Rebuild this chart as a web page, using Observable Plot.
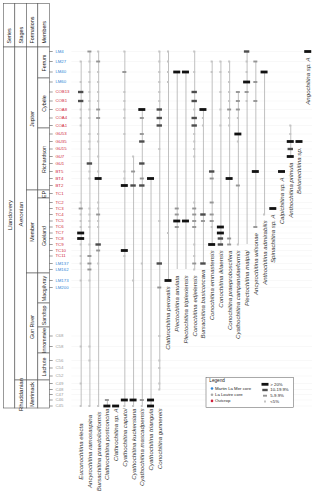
<!DOCTYPE html>
<html><head><meta charset="utf-8">
<script src="https://cdn.jsdelivr.net/npm/d3@7"></script>
<script src="https://cdn.jsdelivr.net/npm/@observablehq/plot@0.6"></script>
<style>
body{margin:0;background:#fff;}
#wrap{position:relative;width:320px;height:499px;overflow:hidden;}
#wrap svg{position:absolute;left:0;top:0;}
</style></head><body><div id="wrap"></div>
<script>
// ---------- DATA ----------
const samples = ["LM4","LM27","LM40","LM60","COB13","COB1","COA8","COA4","COA1","GU53","GU35","GU15","GU7","GU1","BT5","BT4","BT2","TC1","TC2","TC3","TC4","TC5","TC6","TC7","TC8","TC9","TC10","TC11","LM137","LM162","LM173","LM200","C68","C58","C56","C54","C52","C49","C48","C47","C46","C45"];
const sampleLevels = [359,349,338.5,328.5,318.5,309.5,301,292.5,285,276.5,269,261.5,254,247,239,232,225,217,208,202,196,189.5,183.5,177.5,172,166,160,154.5,147,141,130,123,74.5,64,50,42.5,34.5,27,21,16,10.5,4.5];
const sampleSources = ["Martin La Mer core","Martin La Mer core","Martin La Mer core","Martin La Mer core","Outcrop","Outcrop","Outcrop","Outcrop","Outcrop","Outcrop","Outcrop","Outcrop","Outcrop","Outcrop","Outcrop","Outcrop","Outcrop","Outcrop","Outcrop","Outcrop","Outcrop","Outcrop","Outcrop","Outcrop","Outcrop","Outcrop","Outcrop","Outcrop","Martin La Mer core","Martin La Mer core","Martin La Mer core","Martin La Mer core","La Loutre core","La Loutre core","La Loutre core","La Loutre core","La Loutre core","La Loutre core","La Loutre core","La Loutre core","La Loutre core","La Loutre core"];
const sourceNames = ["Martin La Mer core","La Loutre core","Outcrop"];

const species = ["Euconochitina electa","Ancyrochitina ramosaspina","Bursachitina praedolioliformis","Clathrochitina postconcina","Clathrochitina sp. A","Cyathochitina caputoi","Cyathochitina kuckersiana","Cyathochitina mascadpensis","Cyathochitina triangula","Conochitina gunnereis","Clathrochitina perovalis","Plectochitina anulata","Plectochitina triplexiensis","Conochitina edjelensis","Bursachitina basiconcava","Conochitina emmastensis","Conochitina iklaensis","Conochitina praeproboscifera","Cyathochitina campanulaeformis","Plectochitina malpiqi","Ancyrochitina wilsonae","Anthochitina admirabilis","Spinachitina sp. A","Calpichitina sp. A","Anthochitina primula","Belonechitina sp.","Angochitina sp. A"];

// sample:abundance class (1 = <5%, 2 = 5-9.9%, 3 = 10-19.9%, 4 = >20%)
const occurrences = [
 ["LM27:1","LM60:1","COB13:3","COB1:3","COA8:1","COA4:1","COA1:1","TC2:1","TC3:2","TC4:1","TC5:1","TC6:1","TC7:4","TC8:4","TC9:1","TC11:1","LM137:1","LM173:1","C58:1","C49:1","C45:1"],
 ["LM4:2","LM27:1","LM40:1","LM60:1","COB13:1","COB1:1","COA8:1","COA4:1","GU53:1","GU35:1","GU15:1","GU1:3","BT5:1","BT4:1","TC3:1","TC4:1","TC5:1","TC6:1","TC9:1","TC11:2","LM137:2","LM162:2","LM173:1","C58:1","C56:1","C45:1"],
 ["LM4:1","LM27:2","LM40:1","LM60:1","COB13:1","COB1:1","COA8:2","COA4:2","GU53:1","GU35:1","GU7:1","BT5:1","BT4:4","TC2:1","TC3:1","TC4:2","TC5:1","TC6:1","TC9:3","TC10:2","LM137:1","C45:1"],
 ["C46:2","C45:4"],
 ["C45:4"],
 ["LM4:1","LM40:2","COB13:1","COB1:1","COA8:1","COA4:1","GU53:1","BT5:1","BT4:1","BT2:4","TC10:4","TC11:1","C46:4","C45:1"],
 ["GU7:1","BT5:2","BT2:3","LM173:1","C46:4","C45:1"],
 ["COA8:4","COA4:2","GU53:2","GU35:3","GU1:3","BT4:2","BT2:3","LM137:1","C46:2","C45:1"],
 ["BT4:4","C46:4","C45:4"],
 ["LM4:1","LM27:1","LM40:1","LM60:1","COB13:1","COB1:1","COA8:3","COA4:3","COA1:3","GU15:1","TC5:1","LM137:3","LM200:2","C68:1","C56:1","C54:1","C49:1","C48:1"],
 ["LM4:1","LM27:1","LM40:1","LM60:1","TC7:1","LM173:4"],
 ["LM40:4","TC3:2","TC4:2","TC5:4","TC6:2"],
 ["LM40:4","TC5:4"],
 ["LM4:1","LM40:1","COB13:3","COB1:3","COA8:1","COA4:3","COA1:3","GU53:1","GU35:1","GU15:1","GU7:1","TC2:1","TC3:2","TC4:2","TC5:2","TC6:2","TC9:1","TC11:1","LM137:2","LM162:1"],
 ["COA8:4","COA4:1","COA1:1","TC4:3","TC5:2","LM137:3"],
 ["LM27:1","LM40:1","BT5:3","BT4:2","TC2:2","TC4:2","TC5:2","TC6:1","TC9:4"],
 ["LM27:1","LM40:1","COB13:1","COA8:1","COA1:1","TC6:4","TC7:4","TC8:3","TC9:3"],
 ["LM27:1","LM40:1","LM60:1","COB13:1","COB1:1","COA8:2","COA4:1","COA1:1","BT4:4","TC8:2","TC9:2"],
 ["COB13:2","COB1:2","COA8:2","COA4:1","GU53:4","GU35:1","BT2:2","TC9:1"],
 ["LM4:3","LM27:1","LM40:1","LM60:4","COB13:2","COB1:1"],
 ["LM27:2","LM60:2","COB1:2","BT5:4","TC6:2"],
 ["LM40:4","TC4:1"],
 ["TC3:4"],
 ["BT5:4"],
 ["COA1:1","GU53:1","GU35:4","GU15:3","GU7:4"],
 ["GU35:4"],
 ["LM4:4"]
];
// ranges continuing below the last recorded occurrence
const rangeExtensions = [["Plectochitina anulata","LM162"],["Plectochitina triplexiensis","LM162"],["Plectochitina malpiqi","TC9"]];
const abundanceLabels = ["> 20%","10-19.9%","5-9.9%","<5%"];
const abundanceClasses = [4,3,2,1];

// stratigraphy (levels on the same axis as samples)
const stratColumns = ["Series","Stages","Formations","Members"];
const unitNames   = ["Llandovery","Aeronian","Rhuddanian","Jupiter","Member","Gun River","Merrimack","Ferrum","Cybèle","Richardson","EP","Goéland","Macgilvray","Sandtop","Innommée","Lachute",""];
const unitColumns = ["Series","Stages","Stages","Formations","Formations","Formations","Formations","Members","Members","Members","Members","Members","Members","Members","Members","Members","Members"];
const unitTops    = [363,363,30,363,220,137,30,363,332,282,220,212,137,107,83,57,30];
const unitBases   = [2,30,2,220,137,30,2,332,282,220,212,137,107,83,57,30,2];
const headerTop = 406.7, headerBase = 363;

// ---------- BUILD ----------
const FONT = "'Liberation Sans', Arial, sans-serif";
const sourceColor = {"Martin La Mer core":"#2f86d6","La Loutre core":"#a8a8a8","Outcrop":"#cf1f3a"};
const labelColor = {"Martin La Mer core":"#2f86d6","La Loutre core":"#9a9a9a","Outcrop":"#cf1f3a"};
const classStyle = {
  4:{stroke:"#111111", w:7.0, h:2.8},
  3:{stroke:"#4d4d4d", w:5.4, h:2.4},
  2:{stroke:"#959595", w:4.0, h:1.9},
  1:{stroke:"#c4c4c4", w:2.0, h:2.0}
};
const levelOf = Object.fromEntries(samples.map((s,i)=>[s,sampleLevels[i]]));
const sampleData = samples.map((s,i)=>({name:s, level:sampleLevels[i], source:sampleSources[i]}));
const occ = [];
species.forEach((sp,i)=>occurrences[i].forEach(t=>{const [s,c]=t.split(":"); occ.push({species:sp, sample:s, level:levelOf[s], cls:+c});}));
const ranges = species.map(sp=>{
  const lv = occ.filter(o=>o.species===sp).map(o=>o.level);
  let base = d3.min(lv), top = d3.max(lv);
  const ext = rangeExtensions.find(e=>e[0]===sp);
  if (ext) base = Math.min(base, levelOf[ext[1]]);
  return {species:sp, top, base};
});
const lowest = d3.min(sampleLevels);
const coreBase = levelOf["LM200"];
const labels = ranges.map((r,i)=>({species:r.species, i, bottom: r.base < coreBase, level: r.base < coreBase ? lowest : r.base}));

const Y = {domain:[-89,410], range:[499,0], axis:null};
const W = 320, H = 499;
const bandW = 8.733, firstX = 80.67;
const xRange = [firstX - bandW/2, firstX - bandW/2 + bandW*species.length];

const classMarks = abundanceClasses.map(c=>{
  const st = classStyle[c];
  const inset = (bandW - st.w)/2;
  return Plot.tickY(occ.filter(o=>o.cls===c), {x:"species", y:"level", stroke:st.stroke, strokeWidth:st.h, insetLeft:inset, insetRight:inset});
});

const units = unitNames.map((n,i)=>({name:n, column:unitColumns[i], top:unitTops[i], base:unitBases[i]}));
const headers = stratColumns.map(c=>({column:c, top:headerTop, base:headerBase}));

const strat = Plot.plot({
  width:W, height:H, margin:0,
  x:{type:"band", domain:stratColumns, range:[3.3,49.3], padding:0, round:false, axis:null},
  y:Y,
  style:{fontFamily:FONT, background:"white"},
  marks:[
    Plot.barY(headers,{x:"column", y1:"base", y2:"top", fill:"white", stroke:"#555", strokeWidth:0.6}),
    Plot.text(headers,{x:"column", y:"base", text:"column", rotate:-90, textAnchor:"start", dy:-4, fontSize:5.4, fill:"#222"}),
    Plot.barY(units,{x:"column", y1:"base", y2:"top", fill:"white", stroke:"#555", strokeWidth:0.6}),
    Plot.text(units.filter(u=>u.column!=="Series"),{x:"column", y:d=>(d.top+d.base)/2, text:"name", rotate:-90, fontSize:d=>d.column==="Stages"?6.2:5.3, fill:"#222"}),
    Plot.text(units.filter(u=>u.column==="Series"),{x:"column", y:d=>(d.top+d.base)/2, text:"name", rotate:-90, dy:-13, fontSize:6.2, fill:"#222"})
  ]
});

const labelFont = {rotate:-90, fontSize:6.1, fontStyle:"italic", fill:"#333"};
const main = Plot.plot({
  width:W, height:H, margin:0, marginLeft:49.3,
  x:{type:"band", domain:species, range:xRange, padding:0, round:false, axis:null},
  y:Y,
  color:{type:"identity"},
  style:{fontFamily:FONT, background:"transparent"},
  marks:[
    Plot.ruleY(sampleData,{y:"level", stroke:"#000", strokeOpacity:0.06, strokeWidth:0.5, insetLeft:22, insetRight:8}),
    Plot.ruleY(sampleData,{y:"level", stroke:"#555", strokeWidth:0.6, insetRight:W-52.7}),
    Plot.text(sampleData,{y:"level", text:"name", frameAnchor:"left", textAnchor:"start", dx:5.6, fontSize:4.3, fill:d=>labelColor[d.source]}),
    Plot.ruleX(ranges,{x:"species", y1:"base", y2:"top", stroke:"#b0b0b0", strokeWidth:0.8}),
    ...classMarks,
    Plot.text(labels.filter(d=>!d.bottom),{x:"species", y:"level", text:"species", textAnchor:"end", dy:6, ...labelFont}),
    Plot.text(labels.filter(d=>d.bottom && d.i>2),{x:"species", y:"level", text:"species", textAnchor:"end", dy:2.5, ...labelFont}),
    Plot.text(labels.filter(d=>d.bottom && d.i<=2),{x:"species", y:"level", text:"species", textAnchor:"middle", dy:45.5, ...labelFont})
  ]
});

const wrap = document.getElementById("wrap");
wrap.appendChild(strat);
wrap.appendChild(main);

// legend
const g = d3.select(main).append("g").attr("font-family",FONT).attr("font-size",4.3).attr("text-anchor","start").attr("fill","#222");
g.append("rect").attr("x",206).attr("y",377.3).attr("width",87.3).attr("height",30).attr("fill","white").attr("stroke","#555").attr("stroke-width",0.5);
g.append("text").attr("x",209.3).attr("y",382.3).attr("font-size",4.7).text("Legend");
sourceNames.forEach((s,i)=>{
  const yy = 388.5 + i*6.2;
  g.append("circle").attr("cx",212).attr("cy",yy).attr("r",1.3).attr("fill",sourceColor[s]);
  g.append("text").attr("x",215).attr("y",yy+1.4).text(s);
});
abundanceLabels.forEach((lab,i)=>{
  const st = classStyle[abundanceClasses[i]];
  const yy = 384.3 + i*5.7;
  g.append("line").attr("x1",265-st.w/2).attr("x2",265+st.w/2).attr("y1",yy).attr("y2",yy).attr("stroke",st.stroke).attr("stroke-width",st.h);
  g.append("text").attr("x",270.3).attr("y",yy+1.4).text(lab);
});
</script></body></html>
